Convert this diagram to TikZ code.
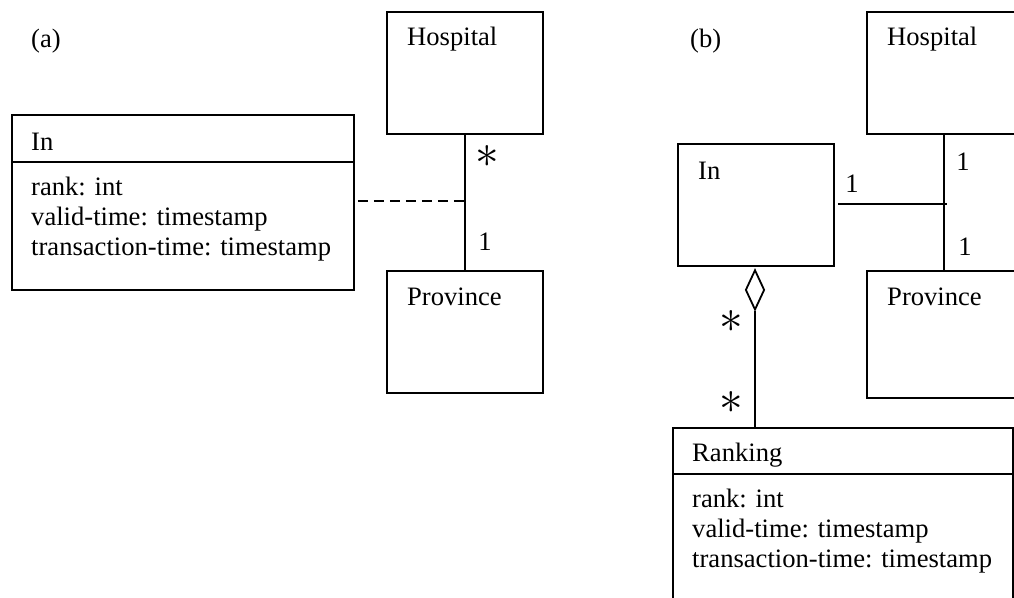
\documentclass[tikz,border=0pt]{standalone}
\usepackage{fontspec}
\setmainfont{Liberation Serif}
\usetikzlibrary{shapes.geometric}
\begin{document}
\begin{tikzpicture}[x=1pt,y=-1pt,
  box/.style={draw, line width=1.8pt, rectangle, anchor=north west, inner sep=0pt},
  lbl/.style={anchor=base west, inner sep=0pt, font=\fontsize{26.6}{30}\selectfont},
  mult/.style={anchor=base, inner sep=0pt, font=\fontsize{26.6}{30}\selectfont},
  star/.style={anchor=center, inner sep=0pt, scale=1.9, font=\fontsize{26.6}{30}\selectfont},
  conn/.style={line width=1.8pt}]
\useasboundingbox (0,0) rectangle (1014,597);
\clip (0,0) rectangle (1014,597);
\fill[white] (0,0) rectangle (1014,597);
% ---- panel (a)
\node[lbl] (la) at (31,47) {(a)};
\node[box, minimum width=342pt, minimum height=175pt] (inA) at (11,114) {};
\draw[conn] ([yshift=-48pt]inA.north west) -- ([yshift=-48pt]inA.north east);
\node[lbl] (inAt) at (31,150) {In};
\node[lbl] (inA1) at (31,195) {rank: int};
\node[lbl] (inA2) at (31,225) {valid-time: timestamp};
\node[lbl] (inA3) at (31,255) {transaction-time: timestamp};
\node[box, minimum width=156pt, minimum height=122pt] (hospA) at (386,11) {};
\node[lbl] (hospAt) at (407,45) {Hospital};
\node[box, minimum width=156pt, minimum height=122pt] (provA) at (386,270) {};
\node[lbl] (provAt) at (407,305) {Province};
\draw[conn] (hospA.south) -- (provA.north);
\coordinate (dA) at (467,201);
\draw[conn, dash pattern=on 10pt off 6pt] ([xshift=3pt]inA.east |- dA) -- (dA);
\node[star] (sA) at (487,156) {$*$};
\node[mult] (oA) at (485,250) {1};
% ---- panel (b)
\node[lbl] (lb) at (690,47) {(b)};
\node[box, minimum width=154pt, minimum height=122pt] (hospB) at (866,11) {};
\node[lbl] (hospBt) at (887,45) {Hospital};
\node[box, minimum width=154pt, minimum height=127pt] (provB) at (866,270) {};
\node[lbl] (provBt) at (887,305) {Province};
\draw[conn] (hospB.south) -- (provB.north);
\node[box, minimum width=156pt, minimum height=122pt] (inB) at (677,143) {};
\node[lbl] (inBt) at (698,179) {In};
\coordinate (jB) at (947,204);
\draw[conn] ([xshift=3pt]inB.east |- jB) -- (jB);
\node[mult] (o1) at (852,192) {1};
\node[mult] (o2) at (963,170) {1};
\node[mult] (o3) at (965,255) {1};
\node[diamond, draw, line width=1.8pt, minimum width=19pt, minimum height=40pt, inner sep=0pt, anchor=north] (dia) at (755,269) {};
\node[box, minimum width=340pt, minimum height=200pt] (rankB) at (672,427) {};
\draw[conn] ([yshift=-47pt]rankB.north west) -- ([yshift=-47pt]rankB.north east);
\draw[conn] (dia.south) -- (dia.south |- rankB.north);
\node[star] (s1) at (731,321) {$*$};
\node[star] (s2) at (731,402) {$*$};
\node[lbl] (rt) at (692,461) {Ranking};
\node[lbl] (r1) at (692,507) {rank: int};
\node[lbl] (r2) at (692,537) {valid-time: timestamp};
\node[lbl] (r3) at (692,567) {transaction-time: timestamp};
\end{tikzpicture}
\end{document}
